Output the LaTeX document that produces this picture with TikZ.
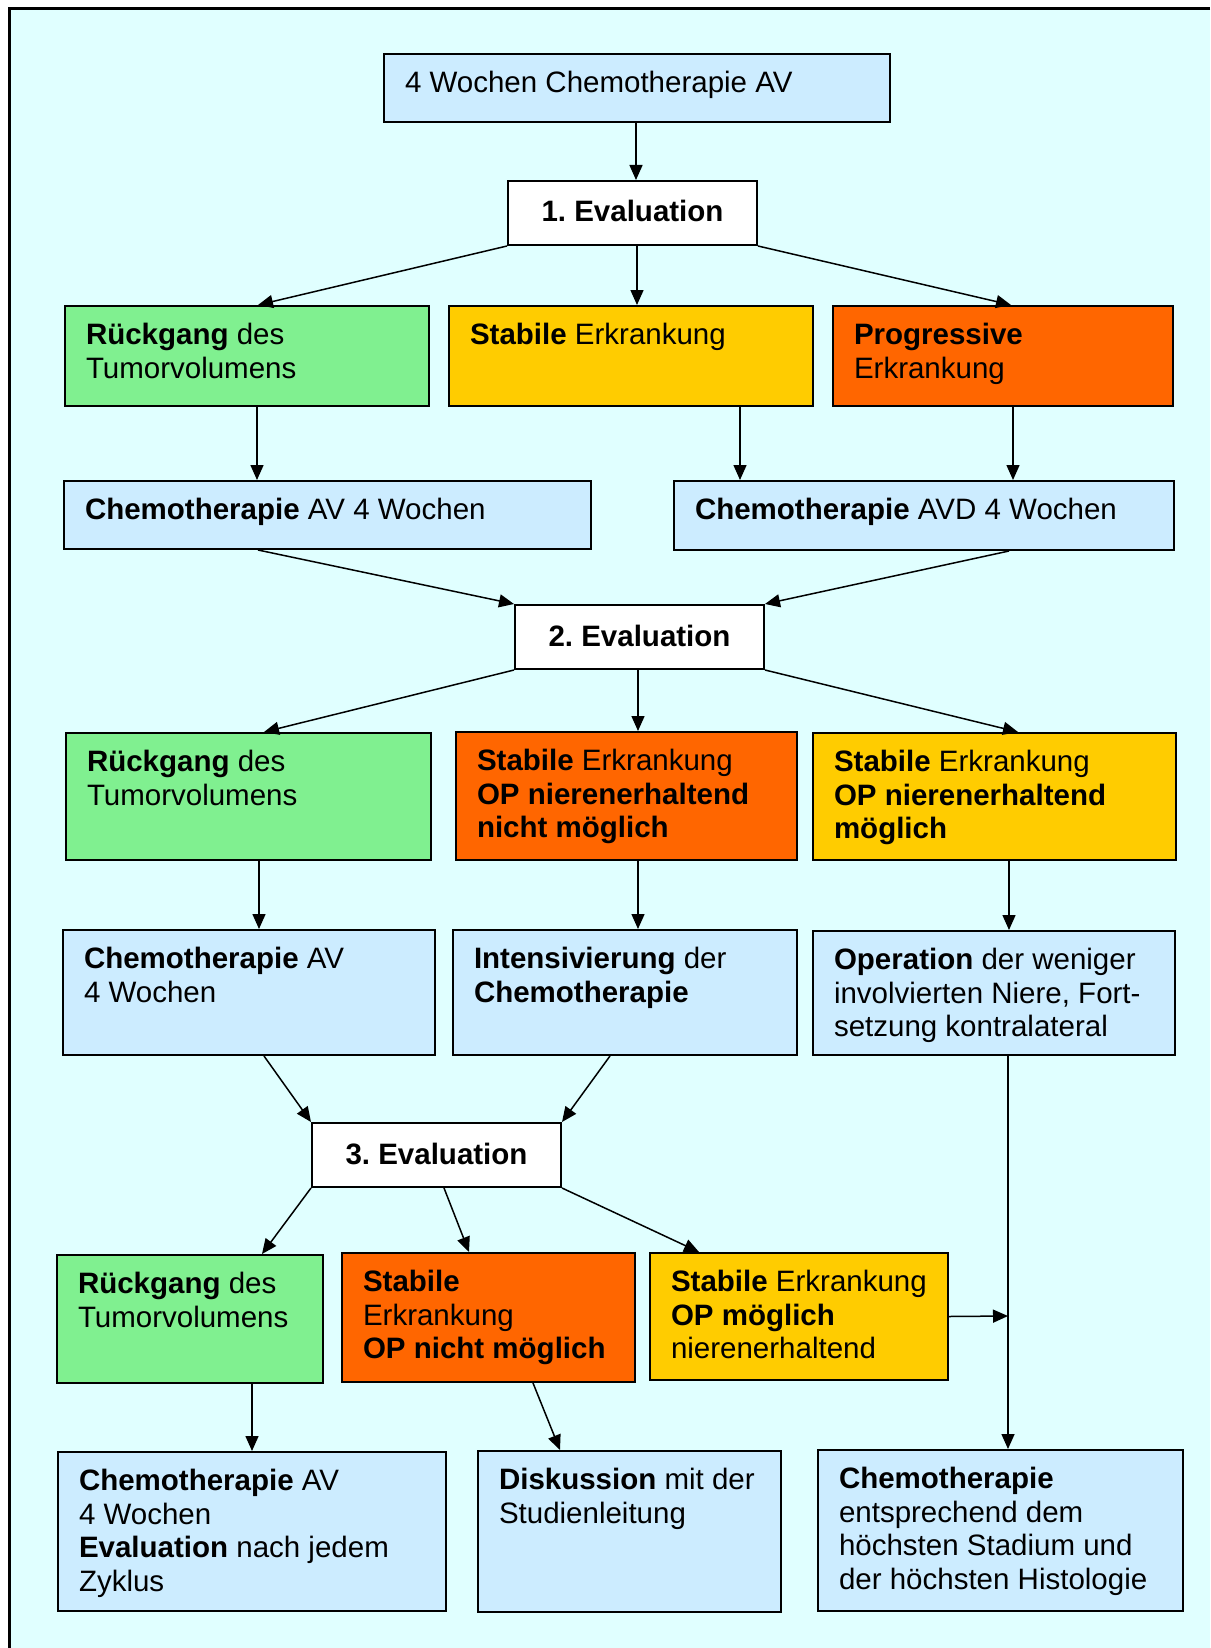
\documentclass[tikz,border=0pt]{standalone}
\usepackage{fontspec}
\setmainfont{Liberation Sans}
\usetikzlibrary{arrows.meta}
\usepackage{xcolor}
\frenchspacing

\definecolor{bgcyan}{HTML}{E0FFFF}
\definecolor{chemoblue}{HTML}{CCECFF}
\definecolor{goodgreen}{HTML}{80F090}
\definecolor{stableyellow}{HTML}{FFCC00}
\definecolor{badorange}{HTML}{FF6600}

\newlength\unitpx \setlength\unitpx{0.5pt}
\newlength\padh \setlength\padh{10.5pt}
\newlength\padv \setlength\padv{7.5pt}
% box text: width and height in px, top aligned
\newcommand{\flowtext}[3]{\parbox[t][\dimexpr#2\unitpx-2\padv\relax][t]{\dimexpr#1\unitpx-2\padh\relax}{\raggedright\strut#3}}

\begin{document}
\begin{tikzpicture}[
x=0.5pt, y=-0.5pt,
flow/.style={draw, line width=1pt, rectangle, anchor=north west,
inner xsep=\padh, inner ysep=\padv,
font=\fontsize{14.75pt}{16.8pt}\selectfont},
evalbox/.style={draw, line width=1pt, fill=white, rectangle, anchor=north west,
minimum width=124.5pt, minimum height=32pt, inner sep=0pt,
text height=10.5pt, text depth=1.5pt,
font=\fontsize{14.75pt}{16.8pt}\selectfont\bfseries},
arrow/.style={-{Triangle[length=7.5pt, width=6.5pt]}, line width=0.75pt}
]
\useasboundingbox (0,0) rectangle (1210,1648);
\fill[bgcyan] (9,9) rectangle (1210,1648);
\draw[line width=1.5pt] (1210,9) -- (9,9) -- (9,1648);

% first block
\node[flow, fill=chemoblue] (start) at (383,53) {\flowtext{506}{68}{4 Wochen Chemotherapie AV}};
\node[evalbox] (eval1) at (507,180) {1. Evaluation};
\node[flow, fill=goodgreen] (rueck1) at (64,305) {\flowtext{364}{100}{\textbf{Rückgang} des\\Tumorvolumens}};
\node[flow, fill=stableyellow] (stab1) at (448,305) {\flowtext{364}{100}{\textbf{Stabile} Erkrankung}};
\node[flow, fill=badorange] (prog1) at (832,305) {\flowtext{340}{100}{\textbf{Progressive}\\Erkrankung}};
\node[flow, fill=chemoblue] (chemoav1) at (63,480) {\flowtext{527}{68}{\textbf{Chemotherapie} AV 4 Wochen}};
\node[flow, fill=chemoblue] (chemoavd) at (673,480) {\flowtext{500}{69}{\textbf{Chemotherapie} AVD 4 Wochen}};

% second block
\node[evalbox] (eval2) at (514,604) {2. Evaluation};
\node[flow, fill=goodgreen] (rueck2) at (65,732) {\flowtext{365}{127}{\textbf{Rückgang} des\\Tumorvolumens}};
\node[flow, fill=badorange] (stabnicht2) at (455,731) {\flowtext{341}{128}{\textbf{Stabile} Erkrankung\\\textbf{OP nierenerhaltend}\\\textbf{nicht möglich}}};
\node[flow, fill=stableyellow] (stabmoegl2) at (812,732) {\flowtext{363}{127}{\textbf{Stabile} Erkrankung\\\textbf{OP nierenerhaltend}\\\textbf{möglich}}};
\node[flow, fill=chemoblue] (chemoav2) at (62,929) {\flowtext{372}{125}{\textbf{Chemotherapie} AV\\4 Wochen}};
\node[flow, fill=chemoblue] (intens) at (452,929) {\flowtext{344}{125}{\textbf{Intensivierung} der\\\textbf{Chemotherapie}}};
\node[flow, fill=chemoblue] (operation) at (812,930) {\flowtext{362}{124}{\textbf{Operation} der weniger\\involvierten Niere, Fort-\\setzung kontralateral}};

% third block
\node[evalbox] (eval3) at (311,1122) {3. Evaluation};
\node[flow, fill=goodgreen] (rueck3) at (56,1254) {\flowtext{266}{128}{\textbf{Rückgang} des\\Tumorvolumens}};
\node[flow, fill=badorange] (stabnicht3) at (341,1252) {\flowtext{293}{129}{\textbf{Stabile}\\Erkrankung\\\textbf{OP nicht möglich}}};
\node[flow, fill=stableyellow] (stabmoegl3) at (649,1252) {\flowtext{298}{127}{\textbf{Stabile} Erkrankung\\\textbf{OP möglich}\\nierenerhaltend}};
\node[flow, fill=chemoblue] (chemoav3) at (57,1451) {\flowtext{388}{159}{\textbf{Chemotherapie} AV\\4 Wochen\\\textbf{Evaluation} nach jedem\\Zyklus}};
\node[flow, fill=chemoblue] (diskussion) at (477,1450) {\flowtext{303}{161}{\textbf{Diskussion} mit der\\Studienleitung}};
\node[flow, fill=chemoblue] (chemoend) at (817,1449) {\flowtext{365}{161}{\textbf{Chemotherapie}\\entsprechend dem\\höchsten Stadium und\\der höchsten Histologie}};
\coordinate (join) at (1008,1316);

\draw[arrow] (start.south -| 636,0) -- (eval1.north -| 636,0);
\draw[arrow] (eval1.south west) -- (rueck1.north -| 258,0);
\draw[arrow] (eval1.south -| 637,0) -- (stab1.north -| 637,0);
\draw[arrow] (eval1.south east) -- (prog1.north -| 1011,0);
\draw[arrow] (rueck1.south -| 257,0) -- (chemoav1.north -| 257,0);
\draw[arrow] (stab1.south -| 740,0) -- (chemoavd.north -| 740,0);
\draw[arrow] (prog1.south -| 1013,0) -- (chemoavd.north -| 1013,0);
\draw[arrow] (chemoav1.south -| 258,0) -- (eval2.north west);
\draw[arrow] (chemoavd.south -| 1009,0) -- (eval2.north east);

\draw[arrow] (eval2.south west) -- (rueck2.north -| 264,0);
\draw[arrow] (eval2.south -| 638,0) -- (stabnicht2.north -| 638,0);
\draw[arrow] (eval2.south east) -- (stabmoegl2.north -| 1018,0);
\draw[arrow] (rueck2.south -| 259,0) -- (chemoav2.north -| 259,0);
\draw[arrow] (stabnicht2.south -| 638,0) -- (intens.north -| 638,0);
\draw[arrow] (stabmoegl2.south -| 1009,0) -- (operation.north -| 1009,0);
\draw[arrow] (chemoav2.south -| 264,0) -- (eval3.north west);
\draw[arrow] (intens.south -| 610,0) -- (eval3.north east);
\draw[arrow] (operation.south -| 1008,0) -- (chemoend.north -| 1008,0);

\draw[arrow] (eval3.south west) -- (rueck3.north -| 262,0);
\draw[arrow] (eval3.south -| 444,0) -- (stabnicht3.north -| 469,0);
\draw[arrow] (eval3.south east) -- (stabmoegl3.north -| 699,0);
\draw[arrow] (stabmoegl3.east) -- (join);
\draw[arrow] (rueck3.south -| 252,0) -- (chemoav3.north -| 252,0);
\draw[arrow] (stabnicht3.south -| 533,0) -- (diskussion.north -| 560,0);

\end{tikzpicture}
\end{document}
